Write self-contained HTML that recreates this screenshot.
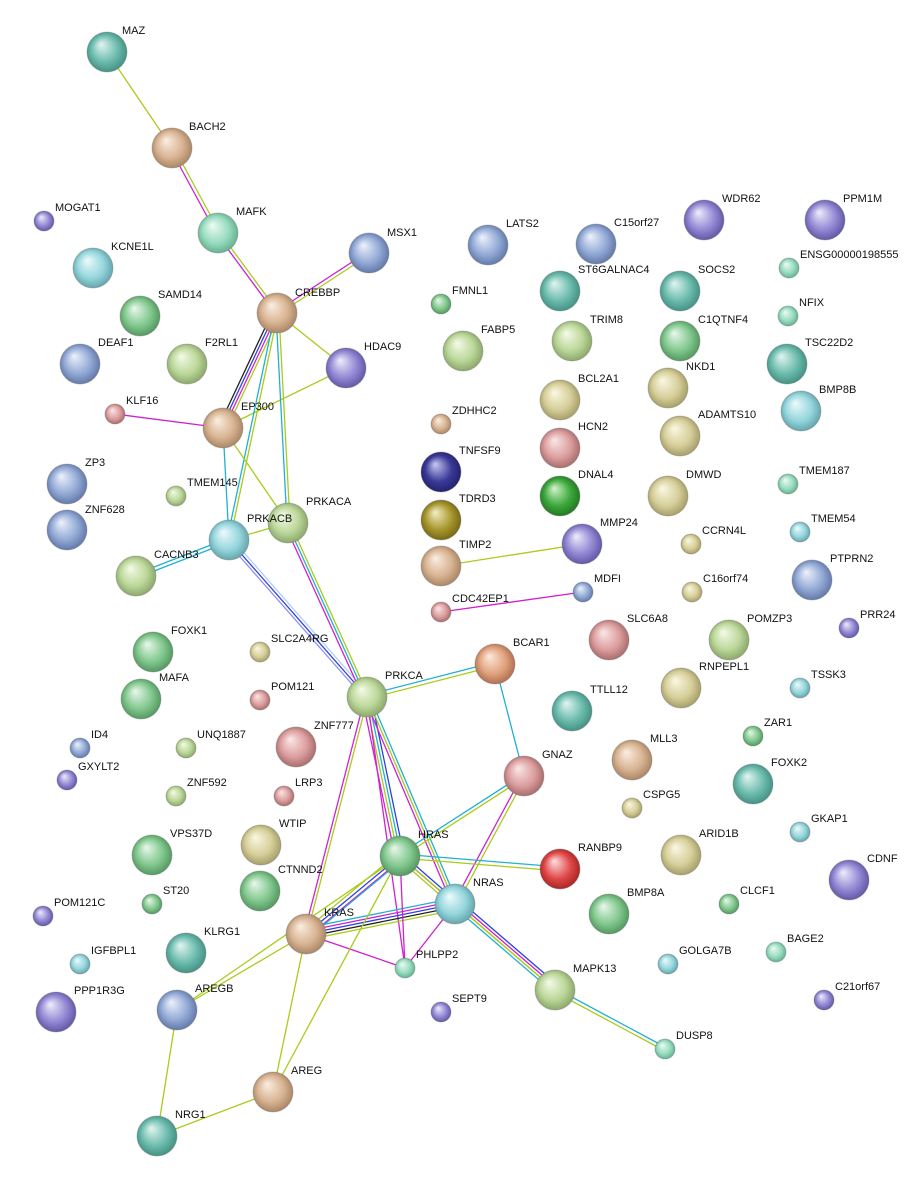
<!DOCTYPE html>
<html><head><meta charset="utf-8"><style>
html,body{margin:0;padding:0;background:#fff}
svg{display:block}
text{font-family:"Liberation Sans",sans-serif;font-size:11px;fill:#111}
.c{stroke-opacity:.5;stroke-width:1}
</style></head><body>
<svg width="919" height="1181" viewBox="0 0 919 1181" xmlns="http://www.w3.org/2000/svg">
<defs>
<radialGradient id="teal" cx=".5" cy=".5" r=".55" fx=".35" fy=".3"><stop offset="0" stop-color="#e4f5f1"/><stop offset=".6" stop-color="#6cbcae"/><stop offset="1" stop-color="#3c8a7c"/></radialGradient>
<radialGradient id="tan" cx=".5" cy=".5" r=".55" fx=".35" fy=".3"><stop offset="0" stop-color="#fbefe2"/><stop offset=".6" stop-color="#d8b493"/><stop offset="1" stop-color="#a27e5e"/></radialGradient>
<radialGradient id="mint" cx=".5" cy=".5" r=".55" fx=".35" fy=".3"><stop offset="0" stop-color="#effbf5"/><stop offset=".6" stop-color="#98dcc0"/><stop offset="1" stop-color="#5ea98a"/></radialGradient>
<radialGradient id="blue" cx=".5" cy=".5" r=".55" fx=".35" fy=".3"><stop offset="0" stop-color="#eef2fb"/><stop offset=".6" stop-color="#93aad6"/><stop offset="1" stop-color="#5a70a0"/></radialGradient>
<radialGradient id="purple" cx=".5" cy=".5" r=".55" fx=".35" fy=".3"><stop offset="0" stop-color="#efedfb"/><stop offset=".6" stop-color="#9288d4"/><stop offset="1" stop-color="#5a4f9e"/></radialGradient>
<radialGradient id="green" cx=".5" cy=".5" r=".55" fx=".35" fy=".3"><stop offset="0" stop-color="#eaf8ec"/><stop offset=".6" stop-color="#82c88f"/><stop offset="1" stop-color="#4a9058"/></radialGradient>
<radialGradient id="lime" cx=".5" cy=".5" r=".55" fx=".35" fy=".3"><stop offset="0" stop-color="#f5fbe9"/><stop offset=".6" stop-color="#bcd79a"/><stop offset="1" stop-color="#849f62"/></radialGradient>
<radialGradient id="cyan" cx=".5" cy=".5" r=".55" fx=".35" fy=".3"><stop offset="0" stop-color="#eefbfc"/><stop offset=".6" stop-color="#96d6dd"/><stop offset="1" stop-color="#5c9ca4"/></radialGradient>
<radialGradient id="red" cx=".5" cy=".5" r=".55" fx=".35" fy=".3"><stop offset="0" stop-color="#fde0e0"/><stop offset=".6" stop-color="#e04848"/><stop offset="1" stop-color="#a02020"/></radialGradient>
<radialGradient id="dblue" cx=".5" cy=".5" r=".55" fx=".35" fy=".3"><stop offset="0" stop-color="#c8c8f0"/><stop offset=".6" stop-color="#3a3a98"/><stop offset="1" stop-color="#1e1e66"/></radialGradient>
<radialGradient id="dgreen" cx=".5" cy=".5" r=".55" fx=".35" fy=".3"><stop offset="0" stop-color="#d4f4cc"/><stop offset=".6" stop-color="#3ca83c"/><stop offset="1" stop-color="#1e701e"/></radialGradient>
<radialGradient id="olive" cx=".5" cy=".5" r=".55" fx=".35" fy=".3"><stop offset="0" stop-color="#f4efc8"/><stop offset=".6" stop-color="#a8972e"/><stop offset="1" stop-color="#6e6010"/></radialGradient>
<radialGradient id="yol" cx=".5" cy=".5" r=".55" fx=".35" fy=".3"><stop offset="0" stop-color="#fbf8e4"/><stop offset=".6" stop-color="#d6cf9a"/><stop offset="1" stop-color="#9e9660"/></radialGradient>
<radialGradient id="pink" cx=".5" cy=".5" r=".55" fx=".35" fy=".3"><stop offset="0" stop-color="#fbe8e8"/><stop offset=".6" stop-color="#dc9e9e"/><stop offset="1" stop-color="#a06464"/></radialGradient>
<radialGradient id="orange" cx=".5" cy=".5" r=".55" fx=".35" fy=".3"><stop offset="0" stop-color="#fdeadc"/><stop offset=".6" stop-color="#e0a27e"/><stop offset="1" stop-color="#a8664a"/></radialGradient>
</defs>

<!-- edges -->
<g fill="none" stroke-width="1.3">
<line x1="107" y1="52" x2="172" y2="148" stroke="#a8cc1a"/>
<g><line x1="170" y1="148" x2="216" y2="233" stroke="#d020d0"/><line x1="174" y1="148" x2="220" y2="233" stroke="#a8cc1a"/></g>
<g><line x1="216" y1="233" x2="275" y2="313" stroke="#d020d0"/><line x1="220" y1="233" x2="279" y2="313" stroke="#a8cc1a"/></g>
<g><line x1="369" y1="251" x2="277" y2="311" stroke="#d020d0"/><line x1="369" y1="255" x2="277" y2="315" stroke="#a8cc1a"/></g>
<line x1="277" y1="313" x2="346" y2="368" stroke="#a8cc1a"/>
<line x1="346" y1="368" x2="223" y2="428" stroke="#a8cc1a"/>
<g><line x1="272" y1="313" x2="218" y2="428" stroke="#222"/><line x1="275" y1="313" x2="221" y2="428" stroke="#3040e0"/><line x1="278" y1="313" x2="224" y2="428" stroke="#d020d0"/><line x1="281" y1="313" x2="227" y2="428" stroke="#a8cc1a"/></g>
<g><line x1="275" y1="313" x2="227" y2="540" stroke="#20b0d0"/><line x1="278" y1="313" x2="230" y2="540" stroke="#a8cc1a"/></g>
<g><line x1="276" y1="313" x2="287" y2="523" stroke="#20b0d0"/><line x1="279" y1="313" x2="290" y2="523" stroke="#a8cc1a"/></g>
<line x1="115" y1="414" x2="223" y2="428" stroke="#d020d0"/>
<line x1="223" y1="428" x2="229" y2="540" stroke="#20b0d0"/>
<line x1="223" y1="428" x2="288" y2="523" stroke="#a8cc1a"/>
<g><line x1="136" y1="574" x2="229" y2="538" stroke="#20b0d0"/><line x1="136" y1="578" x2="229" y2="542" stroke="#20b0d0"/></g>
<line x1="229" y1="540" x2="288" y2="523" stroke="#a8cc1a"/>
<g><line x1="227" y1="542" x2="365" y2="699" stroke="#9090f0"/><line x1="229" y1="540" x2="367" y2="697" stroke="#3040e0"/><line x1="231" y1="538" x2="369" y2="695" stroke="#b0d0f0"/></g>
<g><line x1="284" y1="523" x2="363" y2="697" stroke="#d020d0"/><line x1="287" y1="523" x2="366" y2="697" stroke="#20b0d0"/><line x1="290" y1="523" x2="369" y2="697" stroke="#a8cc1a"/></g>
<g><line x1="367" y1="695" x2="495" y2="662" stroke="#20b0d0"/><line x1="367" y1="699" x2="495" y2="666" stroke="#a8cc1a"/></g>
<line x1="495" y1="664" x2="524" y2="776" stroke="#20b0d0"/>
<g><line x1="362" y1="697" x2="395" y2="856" stroke="#d020d0"/><line x1="365" y1="697" x2="398" y2="856" stroke="#a8cc1a"/><line x1="368" y1="697" x2="401" y2="856" stroke="#20b0d0"/><line x1="371" y1="697" x2="404" y2="856" stroke="#3040e0"/></g>
<g><line x1="364" y1="697" x2="452" y2="904" stroke="#d020d0"/><line x1="367" y1="697" x2="455" y2="904" stroke="#a8cc1a"/><line x1="370" y1="697" x2="458" y2="904" stroke="#20b0d0"/></g>
<g><line x1="365" y1="697" x2="304" y2="934" stroke="#d020d0"/><line x1="368" y1="697" x2="307" y2="934" stroke="#a8cc1a"/></g>
<line x1="367" y1="697" x2="405" y2="968" stroke="#d020d0"/>
<g><line x1="524" y1="774" x2="400" y2="854" stroke="#20b0d0"/><line x1="524" y1="778" x2="400" y2="858" stroke="#a8cc1a"/></g>
<g><line x1="522" y1="776" x2="453" y2="904" stroke="#d020d0"/><line x1="526" y1="776" x2="457" y2="904" stroke="#a8cc1a"/></g>
<g><line x1="400" y1="854" x2="560" y2="867" stroke="#20b0d0"/><line x1="400" y1="858" x2="560" y2="871" stroke="#a8cc1a"/></g>
<g><line x1="400" y1="852" x2="455" y2="900" stroke="#3040e0"/><line x1="400" y1="856" x2="455" y2="904" stroke="#d020d0"/><line x1="400" y1="860" x2="455" y2="908" stroke="#a8cc1a"/></g>
<g><line x1="397" y1="854" x2="303" y2="932" stroke="#a8cc1a"/><line x1="400" y1="856" x2="306" y2="934" stroke="#3040e0"/><line x1="403" y1="858" x2="309" y2="936" stroke="#d020d0"/><line x1="402" y1="860" x2="308" y2="938" stroke="#20b0d0"/></g>
<g><line x1="455" y1="898" x2="306" y2="928" stroke="#20b0d0"/><line x1="455" y1="901" x2="306" y2="931" stroke="#d020d0"/><line x1="455" y1="904" x2="306" y2="934" stroke="#3040e0"/><line x1="455" y1="907" x2="306" y2="937" stroke="#222"/><line x1="455" y1="910" x2="306" y2="940" stroke="#a8cc1a"/></g>
<g><line x1="453" y1="906" x2="553" y2="992" stroke="#20b0d0"/><line x1="455" y1="904" x2="555" y2="990" stroke="#a8cc1a"/><line x1="457" y1="902" x2="557" y2="988" stroke="#d020d0"/><line x1="459" y1="900" x2="559" y2="986" stroke="#3040e0"/></g>
<line x1="400" y1="856" x2="555" y2="990" stroke="#a8cc1a"/>
<g><line x1="555" y1="988" x2="665" y2="1047" stroke="#20b0d0"/><line x1="555" y1="992" x2="665" y2="1051" stroke="#a8cc1a"/></g>
<line x1="306" y1="934" x2="405" y2="968" stroke="#d020d0"/>
<line x1="400" y1="856" x2="405" y2="968" stroke="#d020d0"/>
<line x1="455" y1="904" x2="405" y2="968" stroke="#d020d0"/>
<line x1="306" y1="934" x2="177" y2="1010" stroke="#a8cc1a"/>
<line x1="400" y1="856" x2="177" y2="1010" stroke="#a8cc1a"/>
<line x1="306" y1="934" x2="273" y2="1092" stroke="#a8cc1a"/>
<line x1="400" y1="856" x2="273" y2="1092" stroke="#a8cc1a"/>
<line x1="177" y1="1010" x2="157" y2="1136" stroke="#a8cc1a"/>
<line x1="273" y1="1092" x2="157" y2="1136" stroke="#a8cc1a"/>
<line x1="441" y1="566" x2="582" y2="544" stroke="#a8cc1a"/>
<line x1="441" y1="612" x2="583" y2="592" stroke="#d020d0"/>
</g>

<!-- large nodes -->
<g stroke="#666" stroke-opacity=".35" stroke-width="1">
<circle cx="107" cy="52" r="20" fill="url(#teal)"/>
<circle cx="172" cy="148" r="20" fill="url(#tan)"/>
<circle cx="218" cy="233" r="20" fill="url(#mint)"/>
<circle cx="369" cy="253" r="20" fill="url(#blue)"/>
<circle cx="277" cy="313" r="20" fill="url(#tan)"/>
<circle cx="346" cy="368" r="20" fill="url(#purple)"/>
<circle cx="223" cy="428" r="20" fill="url(#tan)"/>
<circle cx="229" cy="540" r="20" fill="url(#cyan)"/>
<circle cx="288" cy="523" r="20" fill="url(#lime)"/>
<circle cx="136" cy="576" r="20" fill="url(#lime)"/>
<circle cx="93" cy="268" r="20" fill="url(#cyan)"/>
<circle cx="140" cy="316" r="20" fill="url(#green)"/>
<circle cx="80" cy="364" r="20" fill="url(#blue)"/>
<circle cx="187" cy="364" r="20" fill="url(#lime)"/>
<circle cx="67" cy="484" r="20" fill="url(#blue)"/>
<circle cx="67" cy="530" r="20" fill="url(#blue)"/>
<circle cx="153" cy="652" r="20" fill="url(#green)"/>
<circle cx="141" cy="699" r="20" fill="url(#green)"/>
<circle cx="296" cy="747" r="20" fill="url(#pink)"/>
<circle cx="367" cy="697" r="20" fill="url(#lime)"/>
<circle cx="495" cy="664" r="20" fill="url(#orange)"/>
<circle cx="524" cy="776" r="20" fill="url(#pink)"/>
<circle cx="400" cy="856" r="20" fill="url(#green)"/>
<circle cx="455" cy="904" r="20" fill="url(#cyan)"/>
<circle cx="306" cy="934" r="20" fill="url(#tan)"/>
<circle cx="560" cy="869" r="20" fill="url(#red)"/>
<circle cx="152" cy="855" r="20" fill="url(#green)"/>
<circle cx="261" cy="845" r="20" fill="url(#yol)"/>
<circle cx="260" cy="891" r="20" fill="url(#green)"/>
<circle cx="186" cy="953" r="20" fill="url(#teal)"/>
<circle cx="177" cy="1010" r="20" fill="url(#blue)"/>
<circle cx="56" cy="1012" r="20" fill="url(#purple)"/>
<circle cx="273" cy="1092" r="20" fill="url(#tan)"/>
<circle cx="157" cy="1136" r="20" fill="url(#teal)"/>
<circle cx="555" cy="990" r="20" fill="url(#lime)"/>
<circle cx="609" cy="914" r="20" fill="url(#green)"/>
<circle cx="681" cy="855" r="20" fill="url(#yol)"/>
<circle cx="632" cy="760" r="20" fill="url(#tan)"/>
<circle cx="753" cy="784" r="20" fill="url(#teal)"/>
<circle cx="849" cy="880" r="20" fill="url(#purple)"/>
<circle cx="572" cy="711" r="20" fill="url(#teal)"/>
<circle cx="681" cy="688" r="20" fill="url(#yol)"/>
<circle cx="729" cy="640" r="20" fill="url(#lime)"/>
<circle cx="609" cy="640" r="20" fill="url(#pink)"/>
<circle cx="488" cy="245" r="20" fill="url(#blue)"/>
<circle cx="596" cy="244" r="20" fill="url(#blue)"/>
<circle cx="704" cy="220" r="20" fill="url(#purple)"/>
<circle cx="825" cy="220" r="20" fill="url(#purple)"/>
<circle cx="560" cy="291" r="20" fill="url(#teal)"/>
<circle cx="680" cy="291" r="20" fill="url(#teal)"/>
<circle cx="463" cy="351" r="20" fill="url(#lime)"/>
<circle cx="572" cy="341" r="20" fill="url(#lime)"/>
<circle cx="680" cy="341" r="20" fill="url(#green)"/>
<circle cx="787" cy="364" r="20" fill="url(#teal)"/>
<circle cx="801" cy="411" r="20" fill="url(#cyan)"/>
<circle cx="560" cy="400" r="20" fill="url(#yol)"/>
<circle cx="560" cy="448" r="20" fill="url(#pink)"/>
<circle cx="668" cy="388" r="20" fill="url(#yol)"/>
<circle cx="680" cy="436" r="20" fill="url(#yol)"/>
<circle cx="441" cy="472" r="20" fill="url(#dblue)"/>
<circle cx="560" cy="496" r="20" fill="url(#dgreen)"/>
<circle cx="668" cy="496" r="20" fill="url(#yol)"/>
<circle cx="441" cy="520" r="20" fill="url(#olive)"/>
<circle cx="441" cy="566" r="20" fill="url(#tan)"/>
<circle cx="582" cy="544" r="20" fill="url(#purple)"/>
<circle cx="812" cy="580" r="20" fill="url(#blue)"/>
</g>
<!-- small nodes -->
<g stroke="#666" stroke-opacity=".35" stroke-width="1">
<circle cx="44" cy="221" r="10" fill="url(#purple)"/>
<circle cx="441" cy="304" r="10" fill="url(#green)"/>
<circle cx="789" cy="268" r="10" fill="url(#mint)"/>
<circle cx="788" cy="316" r="10" fill="url(#mint)"/>
<circle cx="115" cy="414" r="10" fill="url(#pink)"/>
<circle cx="441" cy="424" r="10" fill="url(#tan)"/>
<circle cx="176" cy="496" r="10" fill="url(#lime)"/>
<circle cx="788" cy="484" r="10" fill="url(#mint)"/>
<circle cx="800" cy="532" r="10" fill="url(#cyan)"/>
<circle cx="691" cy="544" r="10" fill="url(#yol)"/>
<circle cx="583" cy="592" r="10" fill="url(#blue)"/>
<circle cx="441" cy="612" r="10" fill="url(#pink)"/>
<circle cx="692" cy="592" r="10" fill="url(#yol)"/>
<circle cx="849" cy="628" r="10" fill="url(#purple)"/>
<circle cx="260" cy="652" r="10" fill="url(#yol)"/>
<circle cx="260" cy="700" r="10" fill="url(#pink)"/>
<circle cx="800" cy="688" r="10" fill="url(#cyan)"/>
<circle cx="80" cy="748" r="10" fill="url(#blue)"/>
<circle cx="186" cy="748" r="10" fill="url(#lime)"/>
<circle cx="753" cy="736" r="10" fill="url(#green)"/>
<circle cx="284" cy="796" r="10" fill="url(#pink)"/>
<circle cx="176" cy="796" r="10" fill="url(#lime)"/>
<circle cx="67" cy="780" r="10" fill="url(#purple)"/>
<circle cx="632" cy="808" r="10" fill="url(#yol)"/>
<circle cx="800" cy="832" r="10" fill="url(#cyan)"/>
<circle cx="152" cy="904" r="10" fill="url(#green)"/>
<circle cx="43" cy="916" r="10" fill="url(#purple)"/>
<circle cx="729" cy="904" r="10" fill="url(#green)"/>
<circle cx="80" cy="964" r="10" fill="url(#cyan)"/>
<circle cx="405" cy="968" r="10" fill="url(#mint)"/>
<circle cx="668" cy="964" r="10" fill="url(#cyan)"/>
<circle cx="776" cy="952" r="10" fill="url(#mint)"/>
<circle cx="441" cy="1012" r="10" fill="url(#purple)"/>
<circle cx="824" cy="1000" r="10" fill="url(#purple)"/>
<circle cx="665" cy="1049" r="10" fill="url(#mint)"/>
</g>

<!-- labels -->
<g>
<text x="122" y="34">MAZ</text>
<text x="189" y="130">BACH2</text>
<text x="236" y="215">MAFK</text>
<text x="387" y="236">MSX1</text>
<text x="295" y="296">CREBBP</text>
<text x="364" y="350">HDAC9</text>
<text x="241" y="410">EP300</text>
<text x="247" y="522">PRKACB</text>
<text x="306" y="505">PRKACA</text>
<text x="154" y="558">CACNB3</text>
<text x="111" y="250">KCNE1L</text>
<text x="158" y="298">SAMD14</text>
<text x="98" y="346">DEAF1</text>
<text x="205" y="346">F2RL1</text>
<text x="85" y="466">ZP3</text>
<text x="85" y="513">ZNF628</text>
<text x="171" y="634">FOXK1</text>
<text x="159" y="681">MAFA</text>
<text x="314" y="729">ZNF777</text>
<text x="385" y="679">PRKCA</text>
<text x="513" y="646">BCAR1</text>
<text x="542" y="758">GNAZ</text>
<text x="418" y="838">HRAS</text>
<text x="473" y="886">NRAS</text>
<text x="324" y="916">KRAS</text>
<text x="578" y="851">RANBP9</text>
<text x="170" y="837">VPS37D</text>
<text x="279" y="827">WTIP</text>
<text x="278" y="873">CTNND2</text>
<text x="204" y="935">KLRG1</text>
<text x="195" y="992">AREGB</text>
<text x="74" y="994">PPP1R3G</text>
<text x="291" y="1074">AREG</text>
<text x="175" y="1118">NRG1</text>
<text x="573" y="972">MAPK13</text>
<text x="627" y="896">BMP8A</text>
<text x="699" y="837">ARID1B</text>
<text x="650" y="742">MLL3</text>
<text x="771" y="766">FOXK2</text>
<text x="867" y="862">CDNF</text>
<text x="590" y="693">TTLL12</text>
<text x="699" y="670">RNPEPL1</text>
<text x="747" y="622">POMZP3</text>
<text x="627" y="622">SLC6A8</text>
<text x="506" y="227">LATS2</text>
<text x="614" y="226">C15orf27</text>
<text x="722" y="202">WDR62</text>
<text x="843" y="202">PPM1M</text>
<text x="578" y="273">ST6GALNAC4</text>
<text x="698" y="273">SOCS2</text>
<text x="481" y="333">FABP5</text>
<text x="590" y="323">TRIM8</text>
<text x="698" y="323">C1QTNF4</text>
<text x="805" y="346">TSC22D2</text>
<text x="819" y="393">BMP8B</text>
<text x="578" y="382">BCL2A1</text>
<text x="578" y="430">HCN2</text>
<text x="686" y="370">NKD1</text>
<text x="698" y="418">ADAMTS10</text>
<text x="459" y="454">TNFSF9</text>
<text x="578" y="478">DNAL4</text>
<text x="686" y="478">DMWD</text>
<text x="459" y="502">TDRD3</text>
<text x="459" y="548">TIMP2</text>
<text x="600" y="526">MMP24</text>
<text x="830" y="562">PTPRN2</text>
<text x="55" y="211">MOGAT1</text>
<text x="452" y="294">FMNL1</text>
<text x="800" y="258">ENSG00000198555</text>
<text x="799" y="306">NFIX</text>
<text x="126" y="404">KLF16</text>
<text x="452" y="414">ZDHHC2</text>
<text x="187" y="486">TMEM145</text>
<text x="799" y="474">TMEM187</text>
<text x="811" y="522">TMEM54</text>
<text x="702" y="534">CCRN4L</text>
<text x="594" y="582">MDFI</text>
<text x="452" y="602">CDC42EP1</text>
<text x="703" y="582">C16orf74</text>
<text x="860" y="618">PRR24</text>
<text x="271" y="642">SLC2A4RG</text>
<text x="271" y="690">POM121</text>
<text x="811" y="678">TSSK3</text>
<text x="91" y="738">ID4</text>
<text x="197" y="738">UNQ1887</text>
<text x="764" y="726">ZAR1</text>
<text x="295" y="786">LRP3</text>
<text x="187" y="786">ZNF592</text>
<text x="78" y="770">GXYLT2</text>
<text x="643" y="798">CSPG5</text>
<text x="811" y="822">GKAP1</text>
<text x="163" y="894">ST20</text>
<text x="54" y="906">POM121C</text>
<text x="740" y="894">CLCF1</text>
<text x="91" y="954">IGFBPL1</text>
<text x="416" y="958">PHLPP2</text>
<text x="679" y="954">GOLGA7B</text>
<text x="787" y="942">BAGE2</text>
<text x="452" y="1002">SEPT9</text>
<text x="835" y="990">C21orf67</text>
<text x="676" y="1039">DUSP8</text>
</g>
</svg>
</body></html>
